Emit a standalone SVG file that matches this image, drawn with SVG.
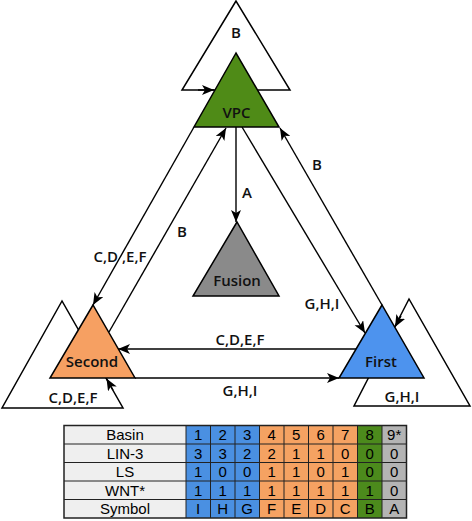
<svg xmlns="http://www.w3.org/2000/svg" width="472" height="521" viewBox="0 0 472 521">
<defs>
<marker id="ah" markerUnits="userSpaceOnUse" markerWidth="14" markerHeight="12" refX="12" refY="5" orient="auto">
<path d="M0,0 L12,5 L0,10 L3,5 Z" fill="#000"/>
</marker>
<style>
.tri{stroke:#000;stroke-width:1.5;stroke-linejoin:miter}
.loop{fill:#fff;stroke:#000;stroke-width:1.5}
.edge{stroke:#000;stroke-width:1.4;fill:none}
.arr{marker-end:url(#ah)}
.lbl{font-family:"Open Sans","DejaVu Sans",sans-serif;font-weight:600;font-size:15px;fill:#111;text-anchor:middle}
.tl{font-family:"Liberation Sans",Arial,sans-serif;font-size:15px;fill:#000;text-anchor:middle}
.grid{stroke:#222;stroke-width:1;fill:none}
</style>
</defs>
<rect width="472" height="521" fill="#fff"/>

<g id="connectors">
<polygon class="loop" points="236,1 182,90 290,90"/>
<line class="edge arr" x1="198" y1="90" x2="214" y2="90"/>
<polygon class="loop" points="62,301 2,408 123,408"/>
<line class="edge arr" x1="113" y1="390" x2="106.5" y2="378.5"/>
<polygon class="loop" points="409,299 354,406 470,406"/>
<line class="edge arr" x1="401" y1="316" x2="395" y2="327"/>
<line class="edge arr" x1="236" y1="127" x2="236" y2="222"/>
<line class="edge arr" x1="194" y1="127" x2="93" y2="305"/>
<line class="edge arr" x1="109" y1="332" x2="226" y2="128"/>
<line class="edge arr" x1="242" y1="127" x2="365" y2="333"/>
<line class="edge arr" x1="382" y1="305" x2="280" y2="128"/>
<line class="edge arr" x1="356" y1="349" x2="118" y2="349"/>
<line class="edge arr" x1="135" y1="378" x2="339" y2="378"/>
<text class="lbl" x="236" y="38">B</text>
<text class="lbl" x="247" y="198">A</text>
<text class="lbl" x="120" y="262">C,D ,E,F</text>
<text class="lbl" x="182" y="237">B</text>
<text class="lbl" x="317" y="170">B</text>
<text class="lbl" x="322" y="309">G,H,I</text>
<text class="lbl" x="240" y="345">C,D,E,F</text>
<text class="lbl" x="240" y="396">G,H,I</text>
<text class="lbl" x="73" y="403">C,D,E,F</text>
<text class="lbl" x="402" y="402">G,H,I</text>
</g>

<g id="node-vpc">
<polygon class="tri" points="236,53 194,127 279,127" fill="#4f8b17"/>
<text class="lbl" x="236.5" y="118">VPC</text>
</g>
<g id="node-fusion">
<polygon class="tri" points="237,222 193,296 279,296" fill="#8a8a8a"/>
<text class="lbl" x="237" y="286">Fusion</text>
</g>
<g id="node-second">
<polygon class="tri" points="93,305 50,378 135,378" fill="#f6a062"/>
<text class="lbl" x="92" y="367">Second</text>
</g>
<g id="node-first">
<polygon class="tri" points="382,305 339,378 424,378" fill="#4d93ee"/>
<text class="lbl" x="381" y="367">First</text>
</g>

<g id="table">
<rect x="64" y="425.5" width="122" height="92.5" fill="#efefef"/>
<rect x="186" y="425.5" width="73.5" height="92.5" fill="#4a90e2"/>
<rect x="259.5" y="425.5" width="98" height="92.5" fill="#f5a262"/>
<rect x="357.5" y="425.5" width="24.5" height="92.5" fill="#4c8a1c"/>
<rect x="382" y="425.5" width="24.5" height="92.5" fill="#b4b4b4"/>
<path class="grid" d="M64,444H406.5M64,462.5H406.5M64,481H406.5M64,499.5H406.5M186,425.5V518M210.5,425.5V518M235,425.5V518M259.5,425.5V518M284,425.5V518M308.5,425.5V518M333,425.5V518M357.5,425.5V518M382,425.5V518"/>
<rect x="64" y="425.5" width="342.5" height="92.5" fill="none" stroke="#222" stroke-width="1.5"/>
<g class="tl">
<text x="125" y="440">Basin</text>
<text x="125" y="458.5">LIN-3</text>
<text x="125" y="477">LS</text>
<text x="125" y="495.5">WNT*</text>
<text x="125" y="514">Symbol</text>
<text x="198.2" y="440">1</text><text x="222.7" y="440">2</text><text x="247.2" y="440">3</text><text x="271.7" y="440">4</text><text x="296.2" y="440">5</text><text x="320.7" y="440">6</text><text x="345.2" y="440">7</text><text x="369.7" y="440">8</text><text x="394.2" y="440">9*</text>
<text x="198.2" y="458.5">3</text><text x="222.7" y="458.5">3</text><text x="247.2" y="458.5">2</text><text x="271.7" y="458.5">2</text><text x="296.2" y="458.5">1</text><text x="320.7" y="458.5">1</text><text x="345.2" y="458.5">0</text><text x="369.7" y="458.5">0</text><text x="394.2" y="458.5">0</text>
<text x="198.2" y="477">1</text><text x="222.7" y="477">0</text><text x="247.2" y="477">0</text><text x="271.7" y="477">1</text><text x="296.2" y="477">1</text><text x="320.7" y="477">0</text><text x="345.2" y="477">1</text><text x="369.7" y="477">0</text><text x="394.2" y="477">0</text>
<text x="198.2" y="495.5">1</text><text x="222.7" y="495.5">1</text><text x="247.2" y="495.5">1</text><text x="271.7" y="495.5">1</text><text x="296.2" y="495.5">1</text><text x="320.7" y="495.5">1</text><text x="345.2" y="495.5">1</text><text x="369.7" y="495.5">1</text><text x="394.2" y="495.5">0</text>
<text x="198.2" y="514">I</text><text x="222.7" y="514">H</text><text x="247.2" y="514">G</text><text x="271.7" y="514">F</text><text x="296.2" y="514">E</text><text x="320.7" y="514">D</text><text x="345.2" y="514">C</text><text x="369.7" y="514">B</text><text x="394.2" y="514">A</text>
</g>
</g>
</svg>
